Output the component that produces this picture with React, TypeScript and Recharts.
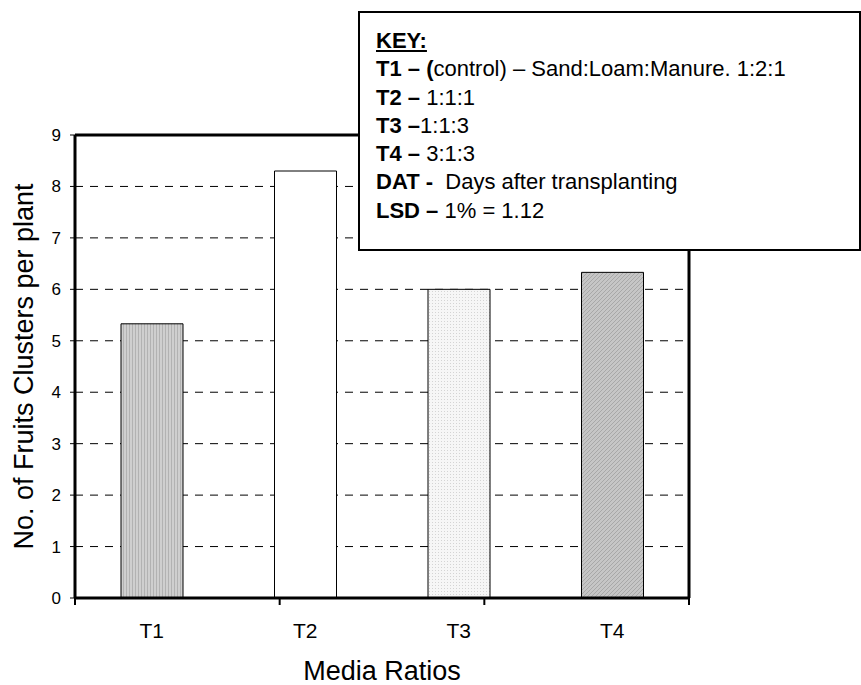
import React from 'react';
import { BarChart, Bar, XAxis, YAxis, CartesianGrid, Cell, ReferenceLine } from 'recharts';

const categories = ['T1', 'T2', 'T3', 'T4'];
const clusterValues = [5.33, 8.3, 6.0, 6.33];
const yTicks = [0, 1, 2, 3, 4, 5, 6, 7, 8, 9];
const boundaryTicks = [0, 1, 2, 3, 4];
const barFills = ['url(#fillStripes)', '#ffffff', 'url(#fillDots)', 'url(#fillHatch)'];
const keyTitle = 'KEY:';
const keyBold = ['T1 – (', 'T2 –', 'T3 –', 'T4 –', 'DAT - ', 'LSD –'];
const keyText = ['control) – Sand:Loam:Manure. 1:2:1', ' 1:1:1', '1:1:3', ' 3:1:3', ' Days after transplanting', ' 1% = 1.12'];
const yAxisTitle = 'No. of Fruits Clusters per plant';
const xAxisTitle = 'Media Ratios';

const data = categories.map((c, i) => ({ name: c, value: clusterValues[i] }));

const FONT = '"Liberation Sans", Arial, sans-serif';

const EmptyTick = () => <g />;

export default function App() {
  return (
    <div style={{ position: 'absolute', left: 0, top: 0, width: 861, height: 685, background: '#fff', fontFamily: FONT, overflow: 'hidden' }}>
      <BarChart
        width={861}
        height={685}
        data={data}
        margin={{ top: 135, right: 171, bottom: 0, left: 0 }}
      >
        <defs>
          <pattern id="fillStripes" width="3" height="4" patternUnits="userSpaceOnUse">
            <rect width="3" height="4" fill="#cfcfcf" />
            <rect width="1" height="4" fill="#b2b2b2" />
          </pattern>
          <pattern id="fillDots" width="3" height="3" patternUnits="userSpaceOnUse">
            <rect width="3" height="3" fill="#f6f6f6" />
            <rect width="1" height="1" fill="#d4d4d4" />
          </pattern>
          <pattern id="fillHatch" width="4" height="4" patternUnits="userSpaceOnUse">
            <rect width="4" height="4" fill="#c6c6c6" />
            <path d="M0,4 L4,0 M-1,1 L1,-1 M3,5 L5,3" stroke="#a8a8a8" strokeWidth="1" />
          </pattern>
        </defs>
        <CartesianGrid
          xAxisId="bCat"
          yAxisId="left"
          vertical={false}
          stroke="#000"
          strokeDasharray="8 7"
        />
        <XAxis
          xAxisId="bCat"
          dataKey="name"
          axisLine={false}
          tickLine={false}
          tickSize={6}
          tickMargin={18}
          height={86}
          tick={{ fill: '#000', fontSize: 21, fontFamily: FONT }}
          label={{ value: xAxisTitle, position: 'insideBottom', offset: 5, fill: '#000', fontSize: 27, fontFamily: FONT }}
        />
        <XAxis
          xAxisId="aFrame"
          type="number"
          domain={[0, 4]}
          allowDataOverflow
          ticks={boundaryTicks}
          interval={0}
          tick={EmptyTick}
          tickLine={{ stroke: '#000', strokeWidth: 2 }}
          tickSize={7}
          axisLine={{ stroke: '#000', strokeWidth: 3 }}
          height={1}
        />
        <YAxis
          yAxisId="left"
          width={75}
          domain={[0, 9]}
          ticks={yTicks}
          interval={0}
          tickSize={5}
          tickMargin={9}
          tickLine={{ stroke: '#000', strokeWidth: 1 }}
          axisLine={{ stroke: '#000', strokeWidth: 3 }}
          tick={{ fill: '#000', fontSize: 17, fontFamily: FONT }}
          label={{ value: yAxisTitle, angle: -90, position: 'center', dx: -14, fill: '#000', fontSize: 27, fontFamily: FONT }}
        />
        <YAxis
          yAxisId="right"
          orientation="right"
          width={1}
          domain={[0, 9]}
          allowDataOverflow
          ticks={yTicks}
          tick={false}
          tickLine={false}
          axisLine={{ stroke: '#000', strokeWidth: 3 }}
        />
        <ReferenceLine xAxisId="bCat" yAxisId="left" y={9} stroke="#000" strokeWidth={3} />
        <Bar
          xAxisId="bCat"
          yAxisId="left"
          dataKey="value"
          barSize={62}
          stroke="#000"
          strokeWidth={1}
          isAnimationActive={false}
        >
          {data.map((d, i) => (
            <Cell key={d.name} fill={barFills[i]} />
          ))}
        </Bar>
      </BarChart>
      <div
        style={{
          position: 'absolute',
          left: 358,
          top: 11,
          width: 503,
          height: 240,
          border: '2px solid #000',
          background: '#fff',
          fontFamily: FONT,
          fontSize: 22,
          lineHeight: '28.3px',
          paddingTop: 14,
          paddingLeft: 16,
          boxSizing: 'border-box',
          color: '#000',
          whiteSpace: 'pre',
        }}
      >
        <div style={{ fontWeight: 'bold', textDecoration: 'underline' }}>{keyTitle}</div>
        {keyBold.map((b, i) => (
          <div key={b}>
            <b>{b}</b>
            <span>{keyText[i]}</span>
          </div>
        ))}
      </div>
    </div>
  );
}
